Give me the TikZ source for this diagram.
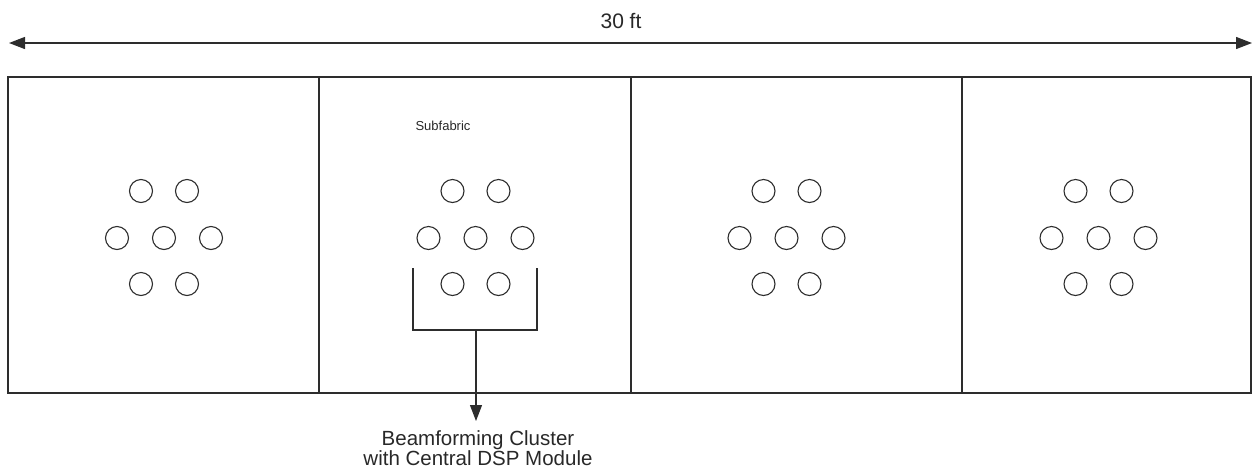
\documentclass[tikz,border=0pt]{standalone}
\usepackage{fontspec}
\setmainfont{Liberation Sans}
\usetikzlibrary{arrows.meta}
\definecolor{ink}{RGB}{45,45,45}
\definecolor{txt}{RGB}{40,40,40}
\begin{document}
\begin{tikzpicture}[x=1pt,y=-1pt,
  line/.style={draw=ink,line width=1.3pt},
  panel/.style={line,rectangle,inner sep=0pt,minimum height=316pt},
  elem/.style={line,circle,inner sep=0pt,minimum size=23pt,line width=1.1pt},
  head/.style={Triangle[length=16pt,width=12pt]},
  tip/.style={-{Triangle[length=16pt,width=12pt]}},
  both/.style={{Triangle[length=16pt,width=12pt]}-{Triangle[length=16pt,width=12pt]}},
  lbl/.style={text=txt,inner sep=0pt,align=center}]
\useasboundingbox (0,0) rectangle (1253,475);

% dimension arrow across the whole fabric
\coordinate (dimL) at (9,43);
\coordinate (dimR) at (1252,43);
\draw[line,both] (dimL) -- (dimR);
\node[lbl,font=\fontsize{21}{24}\selectfont] (dim) at (621,21) {30 ft};

% four subfabric panels
\node[panel,minimum width=311pt] (p1) at (163.5,235) {};
\node[panel,minimum width=312pt] (p2) at (475,235) {};
\node[panel,minimum width=331pt] (p3) at (796.5,235) {};
\node[panel,minimum width=289pt] (p4) at (1106.5,235) {};

\node[lbl,font=\fontsize{13}{15}\selectfont] (sub) at (443,126) {Subfabric};

% seven-element cluster in each panel
\foreach \i/\cx in {1/164,2/475.5,3/786.5,4/1098.5}{
  \node[elem] (c\i a) at (\cx-23,191) {};
  \node[elem] (c\i b) at (\cx+23,191) {};
  \node[elem] (c\i c) at (\cx-47,238) {};
  \node[elem] (c\i d) at (\cx,238) {};
  \node[elem] (c\i e) at (\cx+47,238) {};
  \node[elem] (c\i f) at (\cx-23,284) {};
  \node[elem] (c\i g) at (\cx+23,284) {};
}

% bracket grouping the cluster and its callout
\coordinate (brTL) at (413,268);
\coordinate (brBL) at (413,330);
\coordinate (brBR) at (537,330);
\coordinate (brTR) at (537,268);
\coordinate (stem) at (476,330);
\coordinate (tipE) at (476,421);
\draw[line,line width=1.2pt] (brTL) -- (brBL) -- (brBR) -- (brTR);
\draw[line,line width=1.2pt,tip] (stem) -- (tipE);
\node[lbl,anchor=north,font=\fontsize{20.5}{19}\selectfont] (cap) at (478,430)
  {Beamforming Cluster\\with Central DSP Module};
\end{tikzpicture}
\end{document}
